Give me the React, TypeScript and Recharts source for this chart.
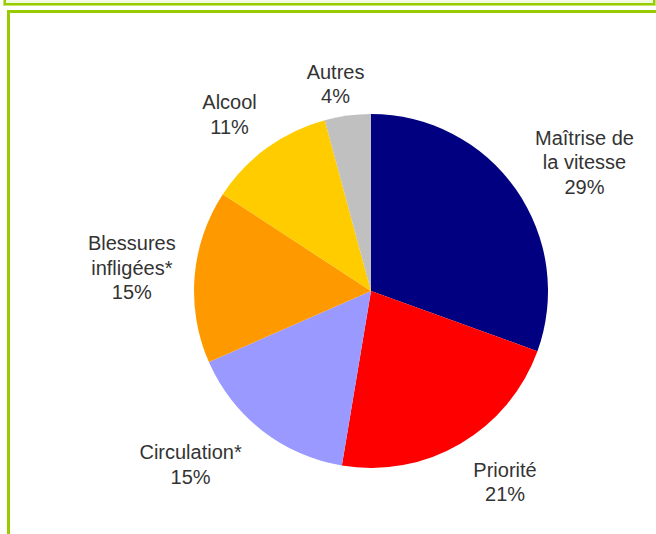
import { PieChart, Pie, Cell } from "recharts";

// Répartition des infractions (parts en %)
const categories = [
  "Maîtrise de la vitesse",
  "Priorité",
  "Circulation*",
  "Blessures infligées*",
  "Alcool",
  "Autres",
];
const shares = [29, 21, 15, 15, 11, 4];
const labelLines = [
  ["Maîtrise de", "la vitesse"],
  ["Priorité"],
  ["Circulation*"],
  ["Blessures", "infligées*"],
  ["Alcool"],
  ["Autres"],
];
const colors = ["#000080", "#FF0000", "#9999FF", "#FF9900", "#FFCC00", "#C0C0C0"];

// label placement (distance from centre + small nudge, like Excel best-fit)
const LABEL_RADIUS = [240, 220, 240, 245, 227, 208];
const LABEL_NUDGE = [
  [17, 9],
  [23, 1],
  [-33, -16],
  [5, -3],
  [-8, 7],
  [-8, -1],
];

const data = categories.map((name, i) => ({ name, value: shares[i] }));

const RADIAN = Math.PI / 180;
const LINE_H = 24.5;

const renderLabel = (props: any) => {
  const { cx, cy, midAngle, index } = props;
  const r = LABEL_RADIUS[index];
  const x = cx + r * Math.cos(-midAngle * RADIAN) + LABEL_NUDGE[index][0];
  const y = cy + r * Math.sin(-midAngle * RADIAN) + LABEL_NUDGE[index][1];
  const lines = [...labelLines[index], `${shares[index]}%`];
  const top = y - ((lines.length - 1) * LINE_H) / 2;
  return (
    <text
      key={`lbl-${index}`}
      x={x}
      y={top}
      textAnchor="middle"
      fill="#333333"
      fontSize={20}
      fontFamily="'Liberation Sans', Arial, sans-serif"
    >
      {lines.map((t, j) => (
        <tspan key={j} x={x} y={top + j * LINE_H} dominantBaseline="central">
          {t}
        </tspan>
      ))}
    </text>
  );
};

export default function App() {
  return (
    <div
      style={{
        position: "fixed",
        left: 0,
        top: 0,
        width: 656,
        height: 534,
        background: "#ffffff",
        overflow: "hidden",
      }}
    >
      {/* upper frame */}
      <div
        style={{
          position: "absolute",
          left: 3,
          top: -4,
          width: 651,
          height: 8,
          background: "#F2FAE0",
          border: "1px solid #C5E86C",
          boxShadow: "inset 0 -2px 0 #99CC00, inset 2px 0 0 #99CC00, inset -2px 0 0 #99CC00",
        }}
      />
      {/* chart frame */}
      <div
        style={{
          position: "absolute",
          left: 7,
          top: 10,
          width: 700,
          height: 600,
          borderTop: "3px solid #99CC00",
          borderLeft: "3px solid #99CC00",
          boxSizing: "border-box",
        }}
      />
      <div style={{ position: "absolute", left: 0, top: 0 }}>
        <PieChart width={656} height={534} margin={{ top: 0, right: 0, bottom: 0, left: 0 }}>
          <Pie
            data={data}
            dataKey="value"
            nameKey="name"
            cx={371}
            cy={291}
            outerRadius={177}
            startAngle={90}
            endAngle={-270}
            stroke="none"
            label={renderLabel}
            labelLine={false}
            isAnimationActive={false}
          >
            {data.map((d, i) => (
              <Cell key={d.name} fill={colors[i]} />
            ))}
          </Pie>
        </PieChart>
      </div>
    </div>
  );
}
